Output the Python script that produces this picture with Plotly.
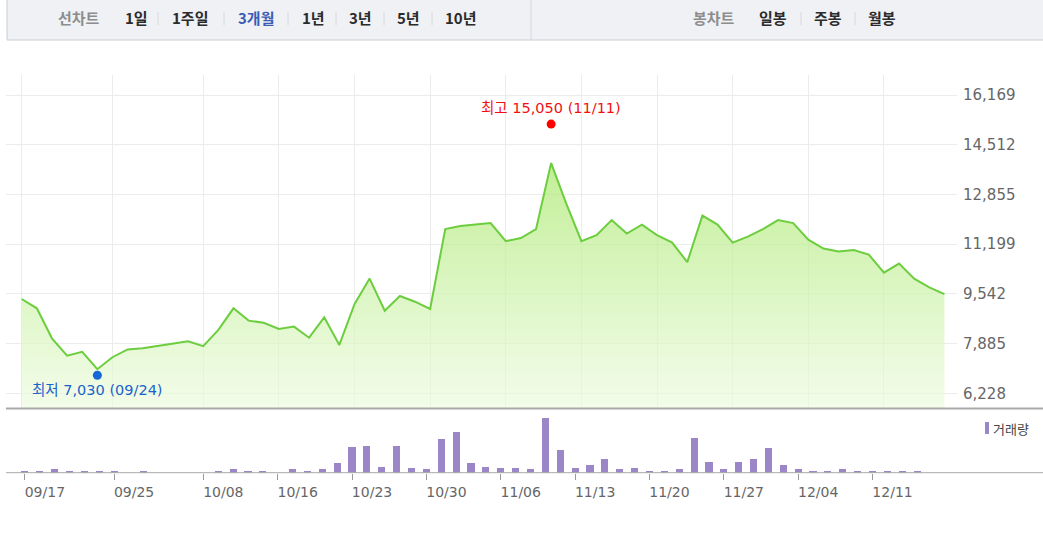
import plotly.graph_objects as go

# ---------------- data ----------------
dates = ["09/17", "09/18", "09/21", "09/22", "09/23", "09/24", "09/25", "09/28", "09/29",
         "10/05", "10/06", "10/07", "10/08", "10/12", "10/13", "10/14", "10/15", "10/16",
         "10/19", "10/20", "10/21", "10/22", "10/23", "10/26", "10/27", "10/28", "10/29", "10/30",
         "11/02", "11/03", "11/04", "11/05", "11/06", "11/09", "11/10", "11/11", "11/12", "11/13",
         "11/16", "11/17", "11/18", "11/19", "11/20", "11/23", "11/24", "11/25", "11/26", "11/27",
         "11/30", "12/01", "12/02", "12/03", "12/04", "12/07", "12/08", "12/09", "12/10", "12/11",
         "12/14", "12/15", "12/16", "12/17"]

prices = [9370, 9060, 8060, 7480, 7610, 7030, 7430, 7690, 7730, 7800,
          7890, 7960, 7800, 8340, 9060, 8650, 8580, 8370, 8450, 8080,
          8760, 7840, 9200, 10050, 8980, 9470, 9280, 9040, 11700, 11800,
          11850, 11900, 11300, 11400, 11700, 13900, 12550, 11300, 11500, 12000,
          11550, 11850, 11500, 11250, 10600, 12150, 11850, 11250, 11450, 11700,
          12000, 11900, 11350, 11050, 10950, 11000, 10850, 10250, 10550, 10050,
          9760, 9530]

volumes = [5, 5, 10, 5, 5, 5, 5, 0, 5, 0,
           0, 0, 0, 5, 10, 5, 5, 0, 10, 5,
           10, 28, 76, 81, 18, 81, 13, 10, 100, 122,
           28, 18, 13, 13, 10, 163, 68, 13, 23, 41,
           10, 13, 5, 5, 10, 103, 32, 10, 32, 41,
           73, 23, 10, 5, 5, 10, 5, 5, 5, 5,
           5, 0]

tick_dates = ["09/17", "09/25", "10/08", "10/16", "10/23", "10/30",
              "11/06", "11/13", "11/20", "11/27", "12/04", "12/11"]
y_ticks = [6228, 7885, 9542, 11199, 12855, 14512, 16169]
y_tick_text = ["6,228", "7,885", "9,542", "11,199", "12,855", "14,512", "16,169"]

high_value, high_date = 15050, "11/11"
low_value, low_date = 7030, "09/24"

line_menu = ["선차트", "1일", "1주일", "3개월", "1년", "3년", "5년", "10년"]
candle_menu = ["봉차트", "일봉", "주봉", "월봉"]

# ---------------- helpers ----------------
W, H = 1043, 533
def px(x):
    return x / W
def py(y):
    return 1 - y / H

NUM_FONT = "DejaVu Sans, Noto Sans CJK KR, sans-serif"
KR_FONT = "Noto Sans CJK KR, DejaVu Sans, sans-serif"

fig = go.Figure()

# price area
fig.add_trace(go.Scatter(
    x=dates, y=prices, mode="lines",
    line=dict(color="#6ccd3e", width=2),
    fill="tozeroy",
    fillgradient=dict(type="vertical", start=5738, stop=13900,
                      colorscale=[[0, "rgba(236,251,222,0.65)"], [1, "rgba(170,232,110,0.72)"]]),
    xaxis="x", yaxis="y", hoverinfo="skip", showlegend=False,
))

# volume bars
fig.add_trace(go.Bar(
    x=dates, y=volumes, marker=dict(color="#9b87c8", line=dict(width=0)),
    width=0.48, xaxis="x2", yaxis="y2", hoverinfo="skip", showlegend=False,
))

shapes = []
annotations = []

def label(x, y, text, size, color, family, xanchor="center"):
    annotations.append(dict(xref="paper", yref="paper", x=x, y=y, text=text,
                            showarrow=False, xanchor=xanchor, yanchor="middle",
                            font=dict(family=family, size=size, color=color)))

# top menu bar
shapes.append(dict(type="rect", xref="paper", yref="paper",
                   x0=px(7), x1=px(1046), y0=py(40), y1=py(-2),
                   fillcolor="#eff1f5", line=dict(color="#c9ccd3", width=1), layer="below"))
shapes.append(dict(type="line", xref="paper", yref="paper",
                   x0=px(531), x1=px(531), y0=py(40), y1=py(0),
                   line=dict(color="#d3d6dc", width=1)))

line_menu_x = [79, 136, 190, 256, 313, 360, 408, 461]
for i, (txt, cx) in enumerate(zip(line_menu, line_menu_x)):
    if i == 0:
        color = "#8d8d8d"
    elif txt == "3개월":
        color = "#3b5cb4"
    else:
        color = "#2b2b2b"
    label(px(cx), py(17.5), "<b>" + txt + "</b>", 15, color, KR_FONT)
for sx in [158, 224, 288, 336, 384, 432, 801, 855]:
    shapes.append(dict(type="line", xref="paper", yref="paper",
                       x0=px(sx), x1=px(sx), y0=py(25), y1=py(12),
                       line=dict(color="#d6d8dc", width=1)))

candle_menu_x = [714, 773, 828, 882]
for i, (txt, cx) in enumerate(zip(candle_menu, candle_menu_x)):
    color = "#8d8d8d" if i == 0 else "#2b2b2b"
    label(px(cx), py(17.5), "<b>" + txt + "</b>", 15, color, KR_FONT)

# separator lines between panels
shapes.append(dict(type="line", xref="paper", yref="paper",
                   x0=px(6), x1=px(1043), y0=py(408.5), y1=py(408.5),
                   line=dict(color="#a9a9a9", width=2)))
shapes.append(dict(type="line", xref="paper", yref="paper",
                   x0=px(6), x1=px(1043), y0=py(472.7), y1=py(472.7),
                   line=dict(color="#a9a9a9", width=1)))

# high / low markers
hi_i = dates.index(high_date)
lo_i = dates.index(low_date)
shapes.append(dict(type="circle", xref="x", yref="y", xsizemode="pixel", ysizemode="pixel",
                   xanchor=hi_i, yanchor=high_value, x0=-4.5, x1=4.5, y0=0, y1=9,
                   fillcolor="#ff0000", line=dict(width=0)))
shapes.append(dict(type="circle", xref="x", yref="y", xsizemode="pixel", ysizemode="pixel",
                   xanchor=lo_i, yanchor=low_value, x0=-4.5, x1=4.5, y0=-10.5, y1=-1.5,
                   fillcolor="#1666d6", line=dict(width=0)))
annotations.append(dict(xref="x", yref="y", x=hi_i, y=high_value, yshift=20.5,
                        xanchor="center", yanchor="middle",
                        text=f"최고 {high_value:,} ({high_date})", showarrow=False,
                        font=dict(family=NUM_FONT, size=14.5, color="#f01010")))
annotations.append(dict(xref="x", yref="y", x=lo_i, y=low_value, yshift=-21,
                        xanchor="center", yanchor="middle",
                        text=f"최저 {low_value:,} ({low_date})", showarrow=False,
                        font=dict(family=NUM_FONT, size=14.5, color="#1a62cc")))

# volume legend
shapes.append(dict(type="rect", xref="paper", yref="paper",
                   x0=px(985), x1=px(989), y0=py(434), y1=py(422),
                   fillcolor="#9b87c8", line=dict(width=0)))
label(px(991), py(428), "거래량", 13, "#444444", KR_FONT, xanchor="left")

fig.update_layout(
    width=W, height=H, margin=dict(l=0, r=0, t=0, b=0),
    paper_bgcolor="white", plot_bgcolor="rgba(0,0,0,0)",
    showlegend=False, bargap=0,
    xaxis=dict(domain=[px(6), px(957)], anchor="y", type="category",
               range=[-1.038, 61.83], tickvals=tick_dates, showticklabels=False,
               showgrid=True, gridcolor="#ececec", gridwidth=1, zeroline=False,
               showline=False, ticks=""),
    yaxis=dict(domain=[py(408), py(75)], range=[5738, 16835.5], side="right",
               tickvals=y_ticks, ticktext=y_tick_text, showgrid=True,
               gridcolor="#ececec", gridwidth=1, zeroline=False, showline=False,
               ticks="", ticklabelstandoff=5,
               tickfont=dict(family=NUM_FONT, size=15, color="#666666")),
    xaxis2=dict(domain=[px(6), px(957)], anchor="y2", type="category",
                range=[-1.269, 62.68], tickvals=tick_dates, ticktext=tick_dates,
                showgrid=False, zeroline=False, showline=False,
                ticks="outside", ticklen=6, tickcolor="#9a9a9a", tickwidth=1,
                ticklabelshift=20,
                tickfont=dict(family=NUM_FONT, size=14, color="#666666")),
    yaxis2=dict(domain=[py(472.7), py(416)], range=[0, 170], visible=False,
                anchor="x2"),
    shapes=shapes, annotations=annotations,
)

fig.write_html("out.html", config={"displayModeBar": False},
               post_script="document.body.style.margin='0';document.body.style.overflow='hidden';")
